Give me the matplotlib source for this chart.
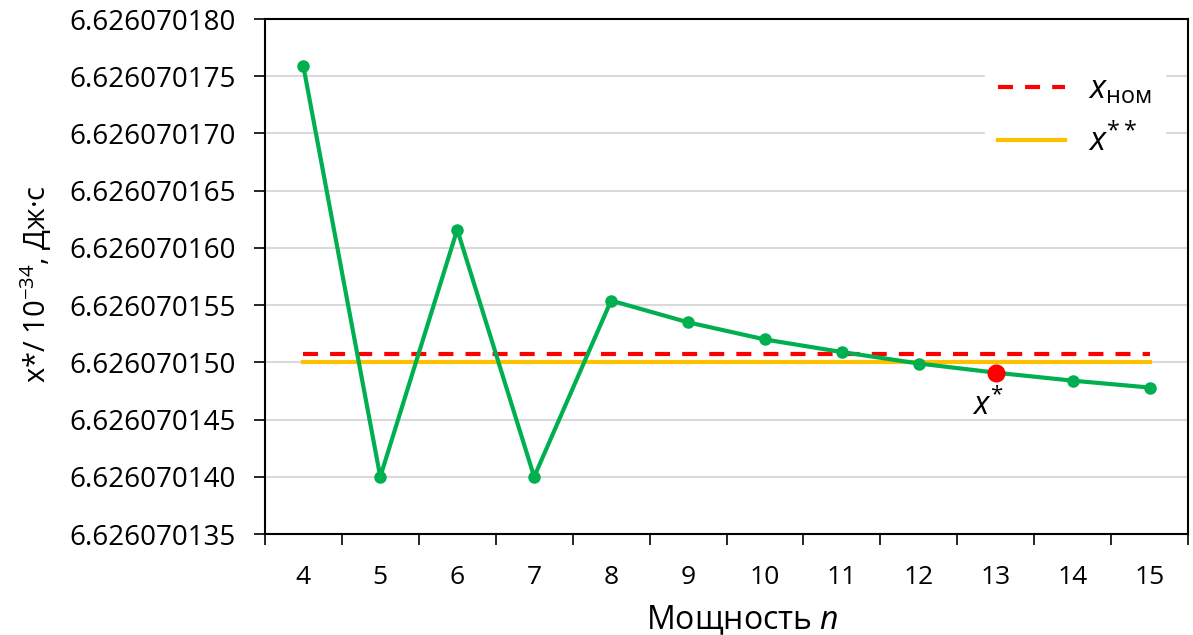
import matplotlib
matplotlib.use("Agg")
import matplotlib.pyplot as plt
from matplotlib.ticker import FixedLocator, FuncFormatter

plt.rcParams["font.family"] = ["Open Sans", "DejaVu Sans"]
plt.rcParams["mathtext.fontset"] = "custom"
plt.rcParams["mathtext.rm"] = "Open Sans"
plt.rcParams["mathtext.it"] = "Open Sans:italic"

# power n and the estimate x* (units of 1e-34 J*s)
n_values = [4, 5, 6, 7, 8, 9, 10, 11, 12, 13, 14, 15]
x_star = [6.6260701759, 6.6260701400, 6.6260701616, 6.6260701400,
          6.6260701554, 6.6260701535, 6.6260701520, 6.6260701509,
          6.6260701499, 6.6260701491, 6.6260701484, 6.6260701478]
x_nom = 6.6260701507
x_2star = 6.6260701500
best_n = 13

y_ticks = [6.626070135 + 0.000000005 * i for i in range(10)]

fig = plt.figure(figsize=(11.93, 6.35), dpi=100)
ax = fig.add_axes([0.222, 0.159, 0.774, 0.811])

pos = list(range(len(n_values)))
ax.plot(pos, x_star, color="#00b050", lw=3, marker="o", ms=8, zorder=3)
ax.plot([pos[0], pos[-1]], [x_nom, x_nom], color="#ff0000", lw=3,
        ls=(0, (3.6, 2.9)), label=r"$\mathit{x}_{\mathrm{ном}}$", zorder=2)
ax.plot([pos[0], pos[-1]], [x_2star, x_2star], color="#ffc000", lw=3,
        label=r"$\mathit{x}^{**}$", zorder=2)

i_best = n_values.index(best_n)
ax.plot(pos[i_best], x_star[i_best], "o", color="#ff0000", ms=12, zorder=4)
ax.annotate(r"$\mathit{x}^{*}$", (pos[i_best], x_star[i_best]),
            xytext=(-6, -12), textcoords="offset points",
            ha="center", va="top", fontsize=23)

ax.set_xlim(-0.5, len(n_values) - 0.5)
ax.set_ylim(y_ticks[0], y_ticks[-1])
ax.yaxis.set_major_locator(FixedLocator(y_ticks))
ax.yaxis.set_major_formatter(FuncFormatter(lambda v, p: f"{v:.9f}"))
ax.set_xticks(pos)
ax.set_xticklabels([str(n) for n in n_values])
ax.xaxis.set_minor_locator(FixedLocator([p - 0.5 for p in pos] + [pos[-1] + 0.5]))
ax.tick_params(axis="x", which="major", length=0, pad=22, labelsize=19)
ax.tick_params(axis="x", which="minor", length=8, width=1.2, direction="out")
ax.tick_params(axis="y", length=8, width=1.2, direction="out", labelsize=20, pad=13)

ax.grid(axis="y", color="#d9d9d9", lw=1.5, zorder=0)
ax.set_axisbelow(True)
for s in ax.spines.values():
    s.set_linewidth(1.5)
    s.set_color("black")

ax.set_xlabel(r"Мощность $\mathit{n}$", fontsize=23, va="center")
ax.xaxis.set_label_coords(0.517, -0.167)
ax.set_ylabel(r"x*/ 10$^{\mathrm{−34}}$, Дж·с", fontsize=21, va="center")
ax.yaxis.set_label_coords(-0.248, 0.485)

leg = ax.legend(loc="upper left", bbox_to_anchor=(0.78, 0.92), fontsize=24,
                frameon=True, handlelength=2.0, labelspacing=0.53,
                borderpad=0.4, handletextpad=0.7, borderaxespad=0)
leg.get_frame().set_edgecolor("white")
leg.get_frame().set_facecolor("white")
leg.get_frame().set_alpha(1)

fig.savefig("out.png", dpi=100)
